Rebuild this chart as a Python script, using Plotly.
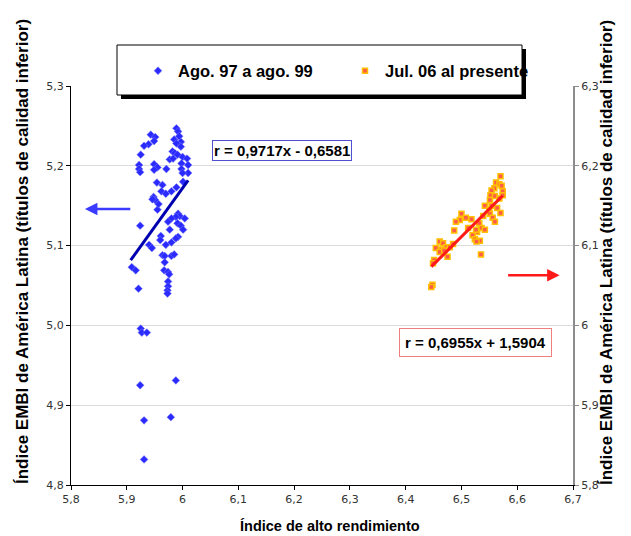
import plotly.graph_objects as go

# ---------------- data ----------------
series_names = ["Ago. 97 a ago. 99", "Jul. 06 al presente"]

blue_x = [5.943, 5.951, 5.949, 5.939, 5.931, 5.925, 5.922, 5.922, 5.924, 5.949,
          5.955, 5.949, 5.971, 5.954, 5.964, 5.962, 5.970, 5.980, 5.989, 5.948,
          5.951, 5.946, 5.955, 5.957, 5.924, 5.940, 5.945, 5.909, 5.916, 5.921,
          5.925, 5.927, 5.936, 5.924, 5.931, 5.931, 5.989, 5.992, 5.994, 5.985,
          5.997, 5.989, 5.997, 5.982, 5.986, 5.991, 6.000, 6.008, 5.977, 5.983,
          5.998, 6.010, 5.998, 6.010, 6.000, 6.001, 5.992, 5.995, 5.988, 6.004,
          5.980, 5.974, 5.991, 5.997, 6.001, 5.977, 5.992, 5.988, 5.961, 5.960,
          5.970, 5.980, 5.964, 5.968, 5.980, 5.985, 5.968, 5.967, 5.974, 5.976,
          5.974, 5.974, 5.973, 5.973, 5.988, 5.979]
blue_y = [5.239, 5.236, 5.231, 5.227, 5.225, 5.214, 5.201, 5.196, 5.192, 5.202,
          5.198, 5.195, 5.196, 5.179, 5.176, 5.168, 5.165, 5.168, 5.173, 5.161,
          5.157, 5.158, 5.145, 5.152, 5.125, 5.101, 5.097, 5.073, 5.069, 5.046,
          4.996, 4.991, 4.991, 4.925, 4.881, 4.832, 5.247, 5.243, 5.237, 5.233,
          5.230, 5.228, 5.224, 5.218, 5.216, 5.214, 5.211, 5.209, 5.208, 5.209,
          5.203, 5.201, 5.196, 5.191, 5.191, 5.180, 5.140, 5.137, 5.136, 5.134,
          5.134, 5.130, 5.128, 5.125, 5.120, 5.120, 5.111, 5.109, 5.112, 5.107,
          5.101, 5.104, 5.088, 5.087, 5.087, 5.089, 5.079, 5.069, 5.067, 5.064,
          5.055, 5.049, 5.044, 5.040, 4.931, 4.885]

orange_x = [6.570, 6.562, 6.568, 6.572, 6.559, 6.554, 6.574, 6.552, 6.560, 6.574,
            6.568, 6.551, 6.542, 6.554, 6.564, 6.550, 6.570, 6.500, 6.508, 6.497,
            6.490, 6.518, 6.551, 6.539, 6.556, 6.560, 6.532, 6.536, 6.512, 6.542,
            6.528, 6.520, 6.487, 6.524, 6.533, 6.527, 6.461, 6.467, 6.454, 6.464,
            6.473, 6.479, 6.485, 6.461, 6.469, 6.451, 6.449, 6.475, 6.535, 6.448,
            6.446, 6.526]
orange_y = [6.187, 6.179, 6.177, 6.175, 6.172, 6.169, 6.168, 6.163, 6.162, 6.163,
            6.159, 6.157, 6.150, 6.150, 6.147, 6.145, 6.141, 6.140, 6.135, 6.132,
            6.130, 6.133, 6.140, 6.137, 6.135, 6.130, 6.128, 6.122, 6.122, 6.120,
            6.117, 6.113, 6.119, 6.108, 6.106, 6.105, 6.105, 6.103, 6.097, 6.095,
            6.098, 6.098, 6.102, 6.092, 6.094, 6.082, 6.078, 6.086, 6.089, 6.051,
            6.048, 6.120]

# trend lines (slope, intercept, x-range)
blue_fit = (0.9717, -0.6581)
blue_fit_x = [5.907, 6.010]
orange_fit = (0.6955, 1.5904)
orange_fit_x = [6.446, 6.574]
blue_eq = "r = 0,9717x - 0,6581"
orange_eq = "r = 0,6955x + 1,5904"

x_ticks = [5.8, 5.9, 6.0, 6.1, 6.2, 6.3, 6.4, 6.5, 6.6, 6.7]
x_ticktext = ["5,8", "5,9", "6", "6,1", "6,2", "6,3", "6,4", "6,5", "6,6", "6,7"]
yl_ticks = [4.8, 4.9, 5.0, 5.1, 5.2, 5.3]
yl_ticktext = ["4,8", "4,9", "5,0", "5,1", "5,2", "5,3"]
yr_ticks = [5.8, 5.9, 6.0, 6.1, 6.2, 6.3]
yr_ticktext = ["5,8", "5,9", "6", "6,1", "6,2", "6,3"]

y_title = "Índice EMBI de América Latina (títulos de calidad inferior)"
x_title = "Índice de alto rendimiento"

# ---------------- figure ----------------
W, H = 631, 536
L, R, T, B = 71, 58, 86, 51
pw, ph = W - L - R, H - T - B


def px(x):
    return (x - L) / pw


def py(y):
    return (H - B - y) / ph


SANS = "Liberation Sans, Arial, sans-serif"

fig = go.Figure()

fig.add_trace(go.Scatter(
    x=blue_x, y=blue_y, mode="markers", name=series_names[0],
    marker=dict(symbol="diamond", size=6, color="#2b2bff",
                line=dict(color="#8080ff", width=0.5)),
))
fig.add_trace(go.Scatter(
    x=orange_x, y=orange_y, mode="markers", name=series_names[1], yaxis="y2",
    marker=dict(symbol="square", size=5, color="#ff5a4a",
                line=dict(color="#ffc000", width=1.5)),
))
fig.add_trace(go.Scatter(
    x=blue_fit_x, y=[blue_fit[0] * v + blue_fit[1] for v in blue_fit_x],
    mode="lines", line=dict(color="#0000b0", width=3), showlegend=False,
))
fig.add_trace(go.Scatter(
    x=orange_fit_x, y=[orange_fit[0] * v + orange_fit[1] for v in orange_fit_x],
    mode="lines", line=dict(color="#ff1a1a", width=3), showlegend=False, yaxis="y2",
))

axis_font = dict(family="DejaVu Sans", size=11, color="#333333")

fig.update_layout(
    width=W, height=H,
    margin=dict(l=L, r=R, t=T, b=B, autoexpand=False),
    paper_bgcolor="white", plot_bgcolor="white",
    showlegend=True,
    legend=dict(orientation="h", x=px(138), y=py(71), xanchor="left", yanchor="middle",
                bgcolor="rgba(0,0,0,0)", borderwidth=0,
                font=dict(family=SANS, size=16.5, color="black", weight="bold"),
                entrywidth=162, entrywidthmode="pixels", itemwidth=30),
    xaxis=dict(range=[5.8, 6.7], tickvals=x_ticks, ticktext=x_ticktext,
               showgrid=False, zeroline=False, showline=True, linecolor="black",
               linewidth=1, ticks="outside", ticklen=4, tickcolor="black",
               tickfont=axis_font),
    yaxis=dict(range=[4.8, 5.3], tickvals=yl_ticks, ticktext=yl_ticktext,
               showgrid=True, gridcolor="#dcdcdc", zeroline=False, showline=True,
               linecolor="black", linewidth=1, ticks="outside", ticklen=4,
               tickcolor="black", tickfont=axis_font),
    yaxis2=dict(range=[5.8, 6.3], tickvals=yr_ticks, ticktext=yr_ticktext,
                overlaying="y", side="right", showgrid=False, zeroline=False,
                showline=True, linecolor="#8c8c8c", linewidth=2, ticks="outside",
                ticklen=4, tickcolor="#8c8c8c", tickfont=axis_font),
)

# legend box with shadow
fig.add_shape(type="rect", xref="paper", yref="paper",
              x0=px(121), x1=px(526), y0=py(99), y1=py(49),
              fillcolor="black", line=dict(width=0), layer="below")
fig.add_shape(type="rect", xref="paper", yref="paper",
              x0=px(117), x1=px(522), y0=py(95), y1=py(45),
              fillcolor="white", line=dict(color="black", width=1), layer="below")

# equation boxes
fig.add_annotation(x=px(282), y=py(150), xref="paper", yref="paper", text=blue_eq,
                   xanchor="center", yanchor="middle",
                   showarrow=False, bgcolor="white", bordercolor="#5050d0",
                   borderwidth=1, borderpad=1,
                   font=dict(family=SANS, size=15, color="black", weight="bold"))
fig.add_annotation(x=px(475), y=py(342), xref="paper", yref="paper", text=orange_eq,
                   xanchor="center", yanchor="middle",
                   showarrow=False, bgcolor="white", bordercolor="#f08080",
                   borderwidth=1, borderpad=5,
                   font=dict(family=SANS, size=15, color="black", weight="bold"))

# arrows pointing to the corresponding axes
blue_arrow = dict(head=(5.825, 5.146), tail=(5.909, 5.146))
red_arrow = dict(head=(6.676, 6.063), tail=(6.581, 6.063))
fig.add_annotation(x=blue_arrow["head"][0], y=blue_arrow["head"][1],
                   ax=blue_arrow["tail"][0], ay=blue_arrow["tail"][1],
                   xref="x", yref="y", axref="x", ayref="y", text="",
                   showarrow=True, arrowhead=2, arrowsize=1, arrowwidth=2.5,
                   arrowcolor="#3b3bff")
fig.add_annotation(x=red_arrow["head"][0], y=red_arrow["head"][1],
                   ax=red_arrow["tail"][0], ay=red_arrow["tail"][1],
                   xref="x", yref="y2", axref="x", ayref="y2", text="",
                   showarrow=True, arrowhead=2, arrowsize=1, arrowwidth=2.5,
                   arrowcolor="#ff1a1a")

# axis titles
title_font = dict(family=SANS, size=17, color="black", weight="bold")
fig.add_annotation(x=px(22), y=py(252), xref="paper", yref="paper", text=y_title,
                   xanchor="center", yanchor="middle",
                   showarrow=False, textangle=-90, font=title_font)
fig.add_annotation(x=px(606), y=py(253), xref="paper", yref="paper", text=y_title,
                   xanchor="center", yanchor="middle",
                   showarrow=False, textangle=-90, font=title_font)
fig.add_annotation(x=px(330), y=py(526), xref="paper", yref="paper", text=x_title,
                   xanchor="center", yanchor="middle",
                   showarrow=False,
                   font=dict(family=SANS, size=14.5, color="black", weight="bold"))

fig.write_html("out.html", post_script="document.body.style.margin='0';",
               config={"displayModeBar": False})
